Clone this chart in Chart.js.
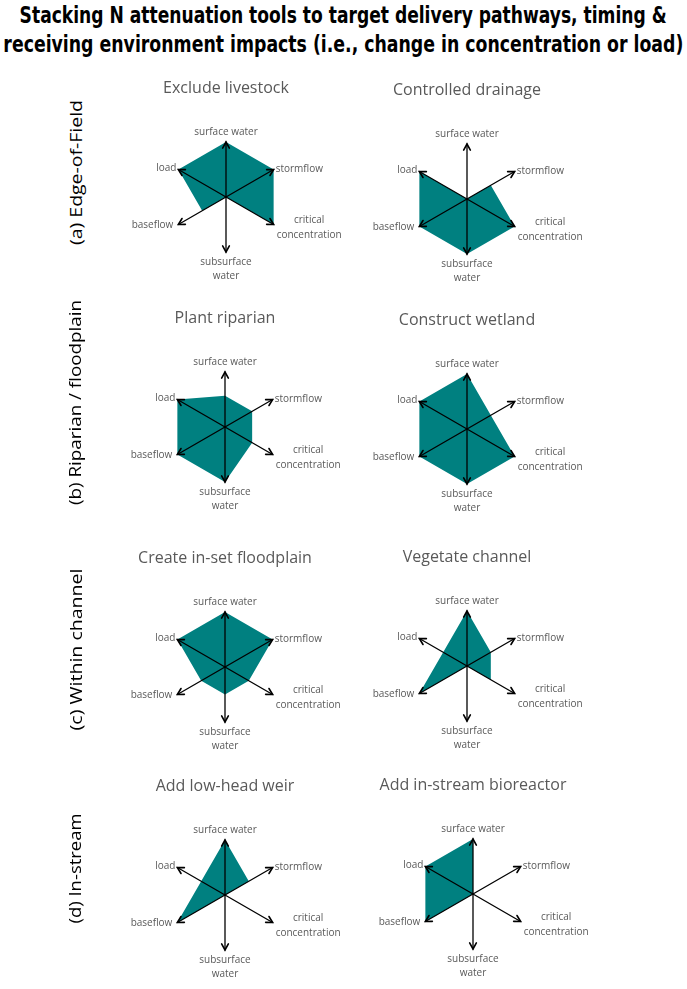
<!DOCTYPE html>
<html>
<head>
<meta charset="utf-8">
<script src="https://cdn.jsdelivr.net/npm/chart.js@4.4.1/dist/chart.umd.min.js"></script>
<style>
  body { margin: 0; width: 687px; height: 989px; background: #fff; position: relative; overflow: hidden; }
  .title-line { position: absolute; left: -500px; width: 1687px; text-align: center; }
  .title-line span { display: inline-block; font: bold 23px 'Liberation Sans Narrow', 'DejaVu Sans Condensed', sans-serif; color: #000; white-space: nowrap; transform-origin: center; }
  .row-label { position: absolute; left: 75px; white-space: nowrap; font: 17px 'Open Sans', sans-serif; color: #000; transform-origin: center; }
  canvas.panel { position: absolute; }
</style>
</head>
<body>
<div class="title-line" style="top:2px"><span id="t1">Stacking N attenuation tools to target delivery pathways, timing &amp;</span></div>
<div class="title-line" style="top:31px"><span id="t2">receiving environment impacts (i.e., change in concentration or load)</span></div>
<script>
// axes, clockwise from the top
const axisLabels = ['surface water', 'stormflow', ['critical', 'concentration'], ['subsurface', 'water'], 'baseflow', 'load'];
const rowLabels = ['(a) Edge-of-Field', '(b) Riparian / floodplain', '(c) Within channel', '(d) In-stream'];
const toolNames = ['Exclude livestock', 'Controlled drainage', 'Plant riparian', 'Construct wetland',
                   'Create in-set floodplain', 'Vegetate channel', 'Add low-head weir', 'Add in-stream bioreactor'];

// relative effect on each axis (0 = none, 1 = full)
const excludeLivestock  = [1, 1, 1, 0, 0.5, 1];
const controlledDrainage = [0, 0.5, 1, 1, 1, 1];
const plantRiparian     = [0.57, 0.57, 0.57, 1, 1, 1];
const constructWetland  = [1, 0.5, 1, 1, 1, 1];
const createFloodplain  = [1, 1, 0.5, 0.5, 0.5, 1];
const vegetateChannel   = [1, 0.5, 0.5, 0, 1, 0.5];
const lowHeadWeir       = [1, 0.5, 0, 0, 1, 0.5];
const bioreactor        = [1, 0, 0, 0, 1, 1];
const toolValues = [excludeLivestock, controlledDrainage, plantRiparian, constructWetland,
                    createFloodplain, vegetateChannel, lowHeadWeir, bioreactor];

// layout
const panelCenters = [[226, 197], [467, 199], [225, 427], [467, 429], [225, 667], [467, 666], [225, 895], [473, 894]];
const rowLabelCenters = [172, 402, 649, 868];
const rowLabelLengths = [145, 205, 162, 110];
const R = 55, PW = 260, PH = 250, CY = 125;
const TEAL = '#008080';
const GREY = '#595959';

// label offsets from the arrow tip
const labelPlace = [
  { align: 'center', dx: 0, dy: -10 },
  { align: 'left', dx: 2, dy: 0 },
  { align: 'block', dx: 3, dy: -4 },
  { align: 'center', dx: 0, dy: 10 },
  { align: 'right', dx: -5, dy: 1 },
  { align: 'right', dx: -2, dy: -1 }
];

const arrowAxes = {
  id: 'arrowAxes',
  afterDatasetsDraw(chart) {
    const scale = chart.scales.r;
    const ctx = chart.ctx;
    const cx = scale.xCenter, cy = scale.yCenter;
    ctx.save();
    ctx.strokeStyle = '#000';
    ctx.lineCap = 'round';
    axisLabels.forEach((lab, i) => {
      const tip = scale.getPointPositionForValue(i, scale.max);
      ctx.lineWidth = 1.3;
      ctx.beginPath();
      ctx.moveTo(cx, cy);
      ctx.lineTo(tip.x, tip.y);
      ctx.stroke();
      const a = Math.atan2(tip.y - cy, tip.x - cx);
      const hl = 7, hw = 0.5;
      ctx.lineWidth = 1.6;
      ctx.beginPath();
      ctx.moveTo(tip.x - hl * Math.cos(a - hw), tip.y - hl * Math.sin(a - hw));
      ctx.lineTo(tip.x, tip.y);
      ctx.lineTo(tip.x - hl * Math.cos(a + hw), tip.y - hl * Math.sin(a + hw));
      ctx.stroke();

      // axis label
      const p = labelPlace[i];
      const lines = Array.isArray(lab) ? lab : [lab];
      ctx.font = "10px 'Open Sans', sans-serif";
      ctx.fillStyle = GREY;
      ctx.textBaseline = 'middle';
      const lh = 14.5;
      if (p.align === 'block') {
        const w = Math.max(...lines.map(l => ctx.measureText(l).width));
        ctx.textAlign = 'center';
        lines.forEach((l, k) => ctx.fillText(l, tip.x + p.dx + w / 2, tip.y + p.dy + k * lh));
      } else {
        ctx.textAlign = p.align;
        lines.forEach((l, k) => ctx.fillText(l, tip.x + p.dx, tip.y + p.dy + k * lh));
      }
    });
    ctx.restore();
  }
};

toolNames.forEach((name, n) => {
  const [px, py] = panelCenters[n];
  const cv = document.createElement('canvas');
  cv.className = 'panel';
  cv.width = PW; cv.height = PH;
  cv.style.left = (px - PW / 2) + 'px';
  cv.style.top = (py - CY) + 'px';
  document.body.appendChild(cv);
  const titleTop = 6.4;
  new Chart(cv, {
    type: 'radar',
    data: {
      labels: axisLabels,
      datasets: [{
        data: toolValues[n],
        backgroundColor: TEAL,
        borderWidth: 0,
        pointRadius: 0,
        fill: true,
        tension: 0
      }]
    },
    options: {
      responsive: false,
      animation: false,
      // chart area is the full width but only 2R tall, so the radius comes out as R
      layout: { padding: { left: 0, right: 0, top: titleTop, bottom: PH - CY - R } },
      plugins: {
        legend: { display: false },
        tooltip: { enabled: false },
        title: {
          display: true,
          text: name,
          color: GREY,
          font: { family: "'Open Sans', sans-serif", size: 16, weight: 'normal' },
          padding: { top: 0, bottom: CY - R - titleTop - 19.2 }
        }
      },
      scales: {
        r: {
          min: 0, max: 1,
          ticks: { display: false },
          grid: { display: false },
          angleLines: { display: false },
          pointLabels: { display: false }
        }
      }
    },
    plugins: [arrowAxes]
  });
});

rowLabels.forEach((txt, i) => {
  const d = document.createElement('div');
  d.className = 'row-label';
  d.textContent = txt;
  document.body.appendChild(d);
  const w = d.getBoundingClientRect().width, h = d.getBoundingClientRect().height;
  d.style.left = (75 - w / 2) + 'px';
  d.style.top = (rowLabelCenters[i] - h / 2) + 'px';
  d.style.transform = 'rotate(-90deg) scaleX(' + (rowLabelLengths[i] / w) + ')';
});

// fit the title lines to the width they take in the original
[['t1', 647], ['t2', 680]].forEach(([id, target]) => {
  const el = document.getElementById(id);
  const w = el.getBoundingClientRect().width;
  el.style.transform = 'scaleX(' + (target / w) + ')';
});
</script>
</body>
</html>
